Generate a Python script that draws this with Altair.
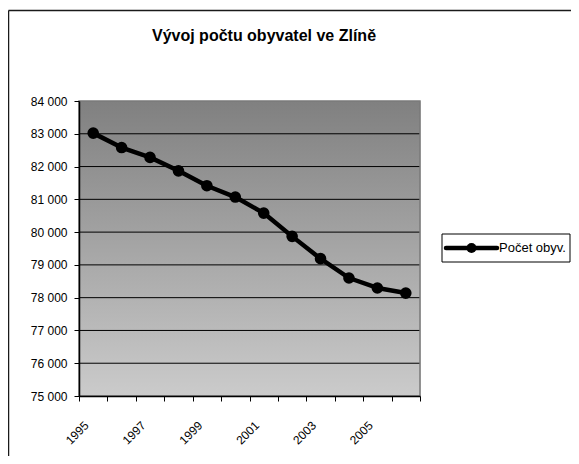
import altair as alt
import pandas as pd

title_text = "Vývoj počtu obyvatel ve Zlíně"
series_name = "Počet obyv."
years = [1995, 1996, 1997, 1998, 1999, 2000, 2001, 2002, 2003, 2004, 2005, 2006]
population = [83020, 82580, 82280, 81870, 81415, 81070, 80580, 79870, 79190, 78600, 78295, 78140]
y_ticks = [75000, 76000, 77000, 78000, 79000, 80000, 81000, 82000, 83000, 84000]
grid_values = [76000, 77000, 78000, 79000, 80000, 81000, 82000, 83000]

W, H = 341, 295
FONT = "Liberation Sans"

df = pd.DataFrame({"rok": years, "obyv": population})
one = pd.DataFrame({"a": [0]})
ydom = alt.Scale(domain=[75000, 84000], nice=False, zero=False)

yaxis = alt.Axis(
    title=None, values=y_ticks,
    labelExpr="replace(format(datum.value, ','), ',', ' ')",
    labelFont=FONT, labelFontSize=12, labelColor="black", labelPadding=7,
    domainColor="black", domainWidth=1.5, tickColor="black", tickSize=5,
    grid=False, zindex=1,
)

bg = alt.Chart(one).mark_rect(
    color=alt.Gradient(
        gradient="linear",
        stops=[alt.GradientStop(color="#808080", offset=0),
               alt.GradientStop(color="#cbcbcb", offset=1)],
        x1=0, x2=0, y1=0, y2=1,
    )
).encode(x=alt.value(0), x2=alt.value(W), y=alt.value(0), y2=alt.value(H))

grid = alt.Chart(pd.DataFrame({"obyv": grid_values})).mark_rule(
    color="black", strokeWidth=1
).encode(
    y=alt.Y("obyv:Q", scale=ydom, axis=yaxis),
    x=alt.value(0), x2=alt.value(W),
)

border = alt.Chart(one).mark_rect(
    fillOpacity=0, stroke="#7a7a7a", strokeWidth=1.5
).encode(x=alt.value(0), x2=alt.value(W), y=alt.value(0), y2=alt.value(H))

xenc = alt.X(
    "rok:O",
    scale=alt.Scale(type="band", paddingInner=0, paddingOuter=0),
    axis=alt.Axis(
        title=None, tickBand="extent", labelAngle=-45, labelBaseline="middle",
        labelAlign="right",
        labelExpr="toNumber(datum.value) % 2 == 1 ? datum.label : ''",
        labelFont=FONT, labelFontSize=12, labelColor="black",
        labelPadding=22, labelOffset=-7,
        domainColor="black", domainWidth=1.5, tickColor="black", tickSize=5,
        grid=False, zindex=1,
    ),
)
yenc = alt.Y("obyv:Q", scale=ydom, axis=yaxis)

line = alt.Chart(df).mark_line(
    color="black", strokeWidth=4.5, strokeJoin="round"
).encode(x=xenc, y=yenc)

points = alt.Chart(df).mark_point(
    filled=True, size=135, color="black", opacity=1
).encode(x=xenc, y=yenc)

frame_left = alt.Chart(one).mark_rule(color="#1a1a1a", strokeWidth=1.5).encode(
    x=alt.value(-70.5), y=alt.value(-90.5), y2=alt.value(H + 300)
)
frame_top = alt.Chart(one).mark_rule(color="#1a1a1a", strokeWidth=1.5).encode(
    x=alt.value(-70.5), x2=alt.value(W + 300), y=alt.value(-90.5)
)

title = alt.Chart(pd.DataFrame({"t": [title_text]})).mark_text(
    font=FONT, fontSize=16, fontWeight="bold", color="black",
    align="center", baseline="alphabetic",
).encode(x=alt.value(185), y=alt.value(-60.5), text="t:N")

leg_df = pd.DataFrame({"s": [series_name]})
leg_box = alt.Chart(leg_df).mark_rect(
    fill="white", stroke="black", strokeWidth=1
).encode(x=alt.value(363), x2=alt.value(491), y=alt.value(133), y2=alt.value(161))
leg_line = alt.Chart(leg_df).mark_rule(
    color="black", strokeWidth=4.5, strokeCap="round"
).encode(x=alt.value(367), x2=alt.value(418), y=alt.value(147))
leg_pt = alt.Chart(leg_df).mark_point(
    filled=True, size=100, color="black", opacity=1
).encode(x=alt.value(392.5), y=alt.value(147))
leg_txt = alt.Chart(leg_df).mark_text(
    font=FONT, fontSize=13, color="black", align="left", baseline="middle"
).encode(x=alt.value(420), y=alt.value(147), text="s:N")

chart = alt.layer(
    bg, grid, border, line, points, frame_left, frame_top, title,
    leg_box, leg_line, leg_pt, leg_txt
).properties(
    width=W, height=H, autosize="none",
    padding={"left": 71, "top": 93, "right": 151, "bottom": 60},
).configure_view(stroke=None).configure(background="white")

chart.save("out.html", embed_options={"renderer": "svg", "actions": False})
